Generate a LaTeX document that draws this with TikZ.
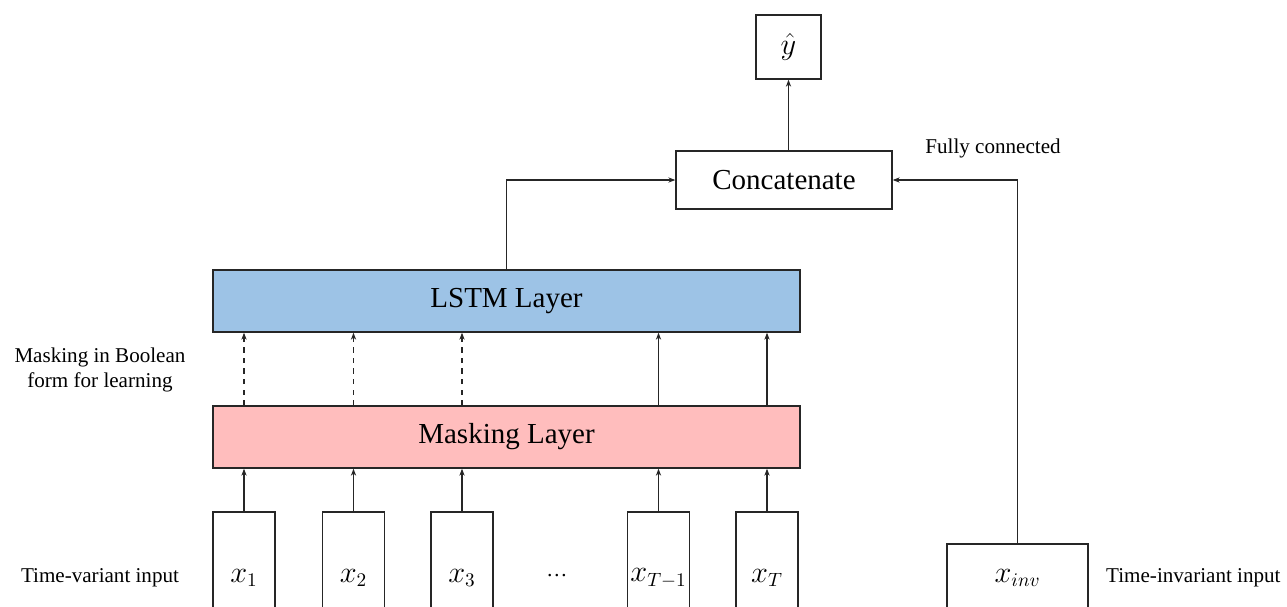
\documentclass[tikz,border=0pt]{standalone}
\usepackage{amsmath}
\usepackage{fontspec}
\setmainfont{Liberation Serif}
\usepackage{xcolor}
\usepackage{tikz}
\usetikzlibrary{arrows.meta}
\definecolor{lstmblue}{HTML}{9DC3E6}
\definecolor{maskpink}{HTML}{FFBDBD}

\begin{document}
\begin{tikzpicture}[x=0.02cm, y=-0.02cm,
			box/.style={rectangle, draw=black!85, line width=0.8pt, text centered, inner sep=0pt},
			layer/.style={box, minimum width=11.74cm, minimum height=1.24cm, font=\fontsize{16.5}{20}\selectfont},
			inbox/.style={box, minimum width=1.24cm, minimum height=2.64cm, font=\fontsize{16}{19}\selectfont},
			arrow/.style={-{Stealth[length=4pt, width=3pt]}, line width=0.6pt, black!85},
			label/.style={font=\fontsize{12}{14.5}\selectfont, align=center}
		]
		\clip (0,0) rectangle (1287,606);

		% Output
		\node[box, minimum width=1.3cm, minimum height=1.28cm, font=\fontsize{16}{19}\selectfont] (yhat) at (788.5,47) {$\hat{y}$};
		\node[box, minimum width=4.32cm, minimum height=1.16cm, font=\fontsize{16.5}{20}\selectfont] (concat) at (784,180) {Concatenate};
		\node[label] (lblfc) at (993,148) {Fully connected};

		% Layers
		\node[layer, fill=lstmblue] (lstm) at (506.5,301) {LSTM Layer};
		\node[layer, fill=maskpink] (mask) at (506.5,437) {Masking Layer};
		\node[label] (lblmask) at (100,370) {Masking in Boolean\\form for learning};

		% Time-variant inputs
		\node[inbox] (x1) at (244,578) {$x_1$};
		\node[inbox] (x2) at (353.5,578) {$x_2$};
		\node[inbox] (x3) at (462,578) {$x_3$};
		\node[font=\fontsize{12}{14.5}\selectfont] (xdots) at (557,576) {\ldots};
		\node[inbox] (xTm) at (658.5,578) {$x_{T-1}$};
		\node[inbox] (xT) at (767,578) {$x_T$};
		\node[label] (lblvar) at (100,578) {Time-variant input};

		% Time-invariant input
		\node[box, minimum width=2.82cm, minimum height=1.36cm, font=\fontsize{16}{19}\selectfont] (xinv) at (1017.5,578) {$x_{inv}$};
		\node[label, anchor=west] (lblinv) at (1100,578) {Time-invariant input};

		% Arrows
		\draw[arrow] (x1) -- (x1 |- mask.south);
		\draw[arrow] (x2) -- (x2 |- mask.south);
		\draw[arrow] (x3) -- (x3 |- mask.south);
		\draw[arrow] (xTm) -- (xTm |- mask.south);
		\draw[arrow] (xT) -- (xT |- mask.south);
		\draw[arrow, dashed] (mask.north -| x1) -- (lstm.south -| x1);
		\draw[arrow, dashed] (mask.north -| x2) -- (lstm.south -| x2);
		\draw[arrow, dashed] (mask.north -| x3) -- (lstm.south -| x3);
		\draw[arrow] (mask.north -| xTm) -- (lstm.south -| xTm);
		\draw[arrow] (mask.north -| xT) -- (lstm.south -| xT);
		\draw[arrow] (lstm.north) |- (concat.west);
		\draw[arrow] (xinv.north) |- (concat.east);
		\draw[arrow] (concat.north -| yhat) -- (yhat.south);

	\end{tikzpicture}
\end{document}
